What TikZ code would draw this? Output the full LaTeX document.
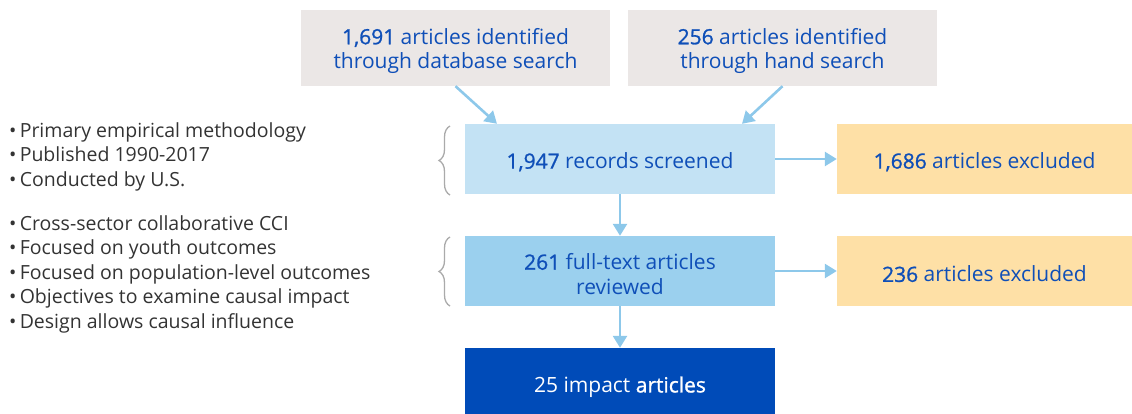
\documentclass[tikz,border=0pt]{standalone}
\usepackage{fontspec}
\setmainfont{Open Sans}
\newfontfamily\semib[FakeBold=1.1]{Open Sans}
\usetikzlibrary{arrows.meta,decorations.pathreplacing,calc}
\definecolor{graybox}{HTML}{EBE7E6}
\definecolor{lightblue}{HTML}{C3E2F4}
\definecolor{midblue}{HTML}{9BD0EE}
\definecolor{darkblue}{HTML}{004BB8}
\definecolor{peach}{HTML}{FEE0A6}
\definecolor{arrowblue}{HTML}{8DC8EA}
\definecolor{textblue}{HTML}{0F4FB8}
\definecolor{bodytext}{HTML}{333333}
\definecolor{bracegray}{HTML}{AAAAAA}
\tikzset{
  box/.style={inner sep=0pt},
  boxtext/.style={inner sep=0pt, align=center, text=textblue, font=\fontsize{21}{24.5}\selectfont},
  arr/.style={draw=arrowblue, line width=2.6pt, -{Triangle[width=14pt,length=12pt]}},
  bullets/.style={anchor=north west, align=left, text=bodytext, inner sep=0pt, font=\fontsize{19.5}{24.6}\selectfont},
  bracestyle/.style={draw=bracegray, line width=1.3pt, decorate, decoration={brace, amplitude=11pt}}
}
\newcommand{\num}[1]{{\semib #1}}
\begin{document}
\begin{tikzpicture}[x=1pt,y=-1pt]
\useasboundingbox (0,0) rectangle (1132,413);
\node[box, fill=graybox, minimum width=309pt, minimum height=76pt] (a) at (455.5,48) {};
\node[boxtext] (at) at ([yshift=-3pt]a.center) {\num{1,691} articles identified\\through database search};
\node[box, fill=graybox, minimum width=309pt, minimum height=76pt] (b) at (782.5,48) {};
\node[boxtext] (bt) at ([yshift=-3pt]b.center) {\num{256} articles identified\\through hand search};
\node[box, fill=lightblue, minimum width=310pt, minimum height=70pt] (s) at (620,159) {};
\node[boxtext] (st) at ([yshift=-3pt]s.center) {\num{1,947} records screened};
\node[box, fill=peach, minimum width=295pt, minimum height=70pt] (e1) at (984.5,159) {};
\node[boxtext] (e1t) at ([yshift=-3pt]e1.center) {\num{1,686} articles excluded};
\node[box, fill=midblue, minimum width=310pt, minimum height=70pt] (f) at (620,271) {};
\node[boxtext] (ft) at ([yshift=-3pt]f.center) {\num{261} full-text articles\\reviewed};
\node[box, fill=peach, minimum width=295pt, minimum height=70pt] (e2) at (984.5,271) {};
\node[boxtext] (e2t) at ([yshift=-3pt]e2.center) {\num{236} articles excluded};
\node[box, fill=darkblue, minimum width=310pt, minimum height=76pt] (g) at (620,386) {};
\node[boxtext, text=white] (gt) at ([yshift=-1pt]g.center) {25 impact \num{articles}};
\draw[arr] (a.south) -- ([xshift=-123pt]s.north);
\draw[arr] (b.south) -- ([xshift=122pt]s.north);
\draw[arr] (s.east) -- (e1.west);
\draw[arr] (s.south) -- (f.north);
\draw[arr] (f.east) -- (e2.west);
\draw[arr] (f.south) -- (g.north);
\coordinate (br1a) at (450,195);
\coordinate (br1b) at (450,126);
\coordinate (br2a) at (450,306);
\coordinate (br2b) at (450,237);
\draw[bracestyle] (br1a) -- (br1b);
\draw[bracestyle] (br2a) -- (br2b);
\node[bullets] (l1) at (9,122) {\textbullet\,Primary empirical methodology\\\textbullet\,Published 1990-2017\\\textbullet\,Conducted by U.S.};
\node[bullets] (l2) at (9,215) {\textbullet\,Cross-sector collaborative CCI\\\textbullet\,Focused on youth outcomes\\\textbullet\,Focused on population-level outcomes\\\textbullet\,Objectives to examine causal impact\\\textbullet\,Design allows causal influence};
\end{tikzpicture}
\end{document}
